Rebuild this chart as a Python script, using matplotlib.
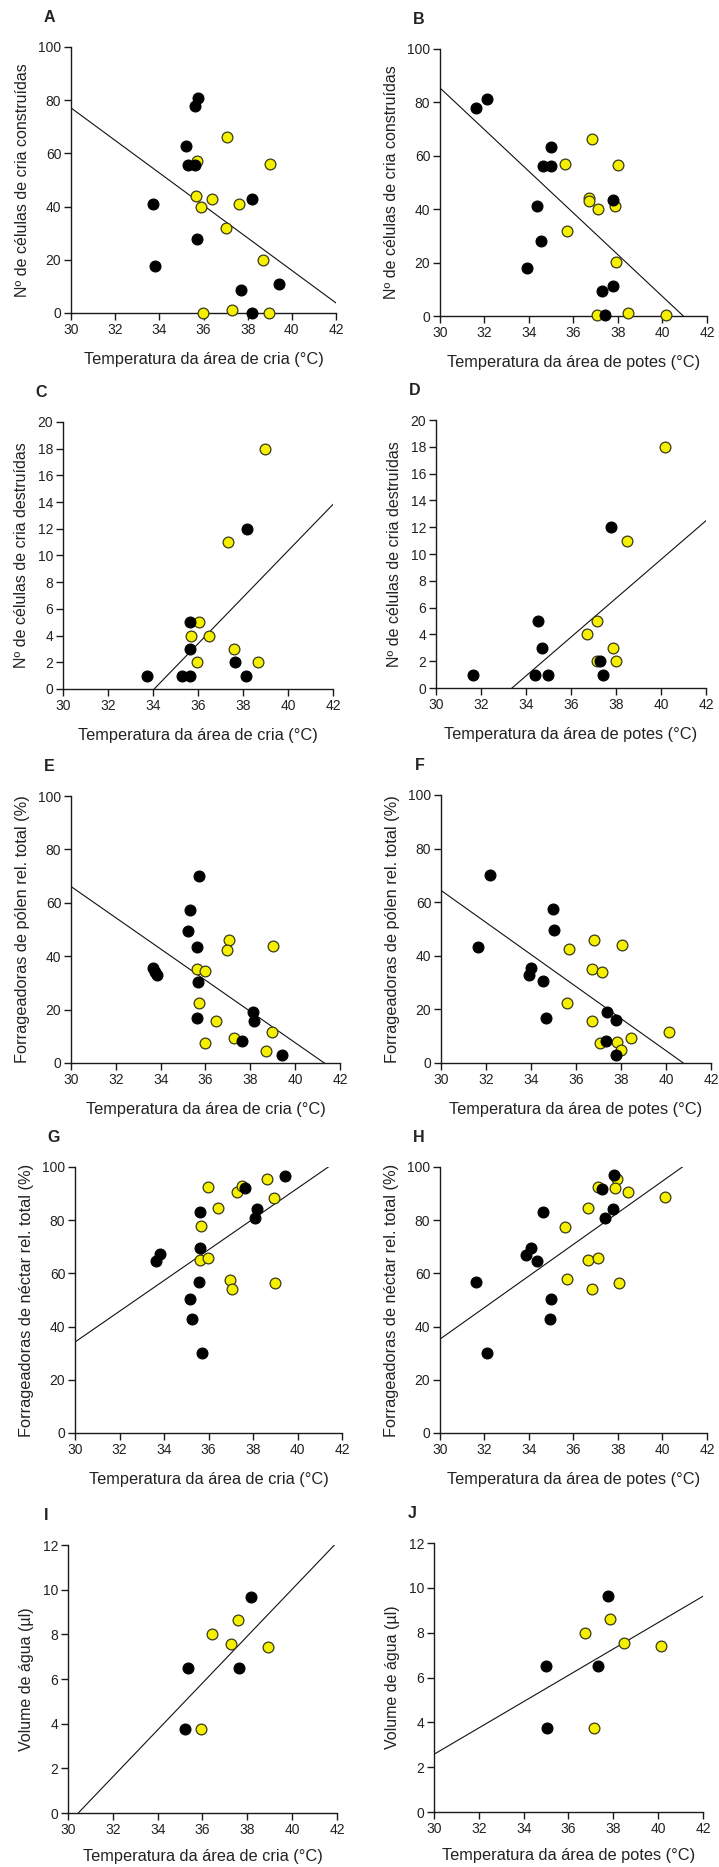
import numpy as np
import matplotlib
matplotlib.use('Agg')
import matplotlib.pyplot as plt

plt.rcParams['font.family'] = ['Liberation Sans', 'DejaVu Sans']

# ---- data: (x, y) for black and yellow colonies ----
# A: cells built vs brood-area temperature
a_blk_x = [35.77, 35.6, 35.2, 35.3, 35.6, 33.7, 35.7, 33.8, 37.7, 38.2, 39.4, 38.2]
a_blk_y = [81, 77.7, 62.8, 55.6, 55.6, 40.9, 27.8, 17.8, 8.8, 42.9, 10.8, 0]
a_yel_x = [35.7, 37.05, 39.0, 35.66, 36.4, 35.9, 37.6, 37.0, 38.7, 35.96, 37.3, 38.95]
a_yel_y = [57, 66, 55.9, 44, 43, 39.8, 40.9, 32, 19.8, 0, 1, 0]

# B: cells built vs pot-area temperature
b_blk_x = [31.62, 32.11, 35.0, 34.65, 34.98, 34.38, 34.53, 33.9, 37.79, 37.3, 37.77, 37.43]
b_blk_y = [78, 81.1, 63.4, 56.1, 56.1, 41.1, 28.1, 18.1, 43.3, 9.4, 11.1, 0.3]
b_yel_x = [36.83, 35.6, 38.0, 36.7, 36.7, 37.1, 37.85, 35.7, 37.9, 37.07, 38.47, 40.15]
b_yel_y = [66.3, 57, 56.4, 44.3, 43, 40.1, 41.1, 32, 20.1, 0.4, 1.25, 0.4]

# C: cells destroyed vs brood-area temperature
c_blk_x = [33.72, 35.28, 35.65, 35.65, 35.65, 37.65, 38.17, 38.13]
c_blk_y = [1, 1, 1, 3, 5, 2, 12, 1]
c_yel_x = [38.97, 37.33, 36.03, 35.67, 36.47, 37.62, 35.97, 38.67]
c_yel_y = [18, 11, 5, 4, 4, 3, 2, 2]

# D: cells destroyed vs pot-area temperature
d_blk_x = [31.65, 34.39, 34.98, 34.55, 34.69, 37.8, 37.3, 37.43]
d_blk_y = [1, 1, 1, 5, 3, 12, 2, 1]
d_yel_x = [40.16, 38.47, 37.15, 36.72, 37.15, 37.86, 37.98]
d_yel_y = [18, 11, 5, 4, 2, 3, 2]

# E: pollen foragers vs brood-area temperature
e_blk_x = [35.73, 35.33, 35.21, 35.6, 33.68, 33.76, 33.83, 35.66, 35.61, 38.14, 38.17, 37.65, 39.43]
e_blk_y = [70.2, 57.4, 49.5, 43.3, 35.4, 34, 32.9, 30.4, 16.7, 19.1, 15.8, 8.1, 3.1]
e_yel_x = [37.04, 36.97, 38.99, 35.64, 35.96, 35.72, 36.45, 37.29, 35.99, 38.69, 38.96]
e_yel_y = [46.1, 42.4, 44, 35.3, 34.3, 22.6, 15.6, 9.35, 7.5, 4.4, 11.5]

# F: pollen foragers vs pot-area temperature
f_blk_x = [32.18, 34.99, 35.02, 31.63, 33.99, 33.9, 34.53, 34.68, 37.39, 37.76, 37.32, 37.78]
f_blk_y = [70, 57.3, 49.5, 43.2, 35.3, 33, 30.5, 16.8, 18.9, 15.9, 8.1, 3.1]
f_yel_x = [36.81, 35.7, 38.03, 36.7, 37.16, 35.6, 36.71, 37.08, 37.82, 38.01, 38.46, 40.15]
f_yel_y = [46, 42.4, 43.9, 35, 34.1, 22.4, 15.5, 7.5, 7.7, 4.7, 9.5, 11.5]

# G: nectar foragers vs brood-area temperature
g_blk_x = [39.44, 37.64, 38.16, 38.1, 35.63, 35.64, 33.81, 33.66, 35.58, 35.19, 35.28, 35.7]
g_blk_y = [96.7, 92.2, 84.3, 81, 83.2, 69.5, 67.4, 64.5, 56.6, 50.4, 42.7, 30]
g_yel_x = [35.99, 37.29, 38.64, 38.94, 36.42, 35.67, 35.61, 35.96, 36.95, 37.04, 38.99, 37.5]
g_yel_y = [92.5, 90.5, 95.5, 88.5, 84.6, 77.7, 64.9, 65.9, 57.6, 54.1, 56.4, 92.7]

# H: nectar foragers vs pot-area temperature
h_blk_x = [37.8, 37.28, 37.79, 37.4, 34.62, 34.1, 33.85, 34.38, 31.6, 34.99, 34.96, 32.09]
h_blk_y = [97, 91.9, 84.3, 81, 83.1, 69.5, 66.8, 64.5, 56.6, 50.4, 42.7, 30]
h_yel_x = [37.97, 37.1, 37.85, 38.45, 40.13, 36.66, 35.6, 36.65, 37.11, 35.7, 36.83, 38.03]
h_yel_y = [95.4, 92.6, 92.2, 90.5, 88.7, 84.6, 77.4, 65, 65.8, 57.8, 54.1, 56.3]

# I: water volume vs brood-area temperature
i_blk_x = [38.15, 35.34, 37.65, 35.22]
i_blk_y = [9.66, 6.5, 6.5, 3.75]
i_yel_x = [37.59, 36.43, 37.29, 38.94, 35.93]
i_yel_y = [8.64, 8.0, 7.55, 7.44, 3.75]

# J: water volume vs pot-area temperature
j_blk_x = [37.75, 35.0, 37.3, 35.03]
j_blk_y = [9.62, 6.5, 6.5, 3.74]
j_yel_x = [37.84, 36.72, 38.48, 40.14, 37.15]
j_yel_y = [8.62, 8.0, 7.52, 7.4, 3.75]

# regression lines (intercept, slope), estimated from the figure
fits = {
    'A': (260.4, -6.11), 'B': (319.7, -7.81),
    'C': (-59.25, 1.74), 'D': (-48.33, 1.448),
    'E': (241.6, -5.85), 'F': (243.8, -5.98),
    'G': (-139.2, 5.78), 'H': (-142.9, 5.94),
    'I': (-31.98, 1.05), 'J': (-15.05, 0.5875),
}

xlab_cria = 'Temperatura da área de cria (°C)'
xlab_potes = 'Temperatura da área de potes (°C)'
ylab_constr = 'Nº de células de cria construídas'
ylab_destr = 'Nº de células de cria destruídas'
ylab_polen = 'Forrageadoras de pólen rel. total (%)'
ylab_nectar = 'Forrageadoras de néctar rel. total (%)'
ylab_agua = 'Volume de água (µl)'

# panel: (letter, data, ylabel, xlabel, ymax, ystep, axes box in px: left, right, top, bottom)
panels = [
    ('A', (a_blk_x, a_blk_y, a_yel_x, a_yel_y), ylab_constr, xlab_cria, 100, 20, (71, 336, 47, 313)),
    ('B', (b_blk_x, b_blk_y, b_yel_x, b_yel_y), ylab_constr, xlab_potes, 100, 20, (440, 707, 49, 316)),
    ('C', (c_blk_x, c_blk_y, c_yel_x, c_yel_y), ylab_destr, xlab_cria, 20, 2, (63, 333, 422, 689)),
    ('D', (d_blk_x, d_blk_y, d_yel_x, d_yel_y), ylab_destr, xlab_potes, 20, 2, (436, 706, 420, 688)),
    ('E', (e_blk_x, e_blk_y, e_yel_x, e_yel_y), ylab_polen, xlab_cria, 100, 20, (71, 340, 796, 1063)),
    ('F', (f_blk_x, f_blk_y, f_yel_x, f_yel_y), ylab_polen, xlab_potes, 100, 20, (441, 711, 795, 1063)),
    ('G', (g_blk_x, g_blk_y, g_yel_x, g_yel_y), ylab_nectar, xlab_cria, 100, 20, (75, 342, 1167, 1433)),
    ('H', (h_blk_x, h_blk_y, h_yel_x, h_yel_y), ylab_nectar, xlab_potes, 100, 20, (440, 707, 1167, 1433)),
    ('I', (i_blk_x, i_blk_y, i_yel_x, i_yel_y), ylab_agua, xlab_cria, 12, 2, (68, 337, 1545, 1813)),
    ('J', (j_blk_x, j_blk_y, j_yel_x, j_yel_y), ylab_agua, xlab_potes, 12, 2, (434, 703, 1543, 1812)),
]

W, H = 719, 1867
fig = plt.figure(figsize=(W / 100, H / 100), dpi=100)
fig.patch.set_facecolor('white')

TXT = '#222222'
for letter, (bx, by, yx, yy), ylab, xlab, ymax, ystep, (l, r, t, b) in panels:
    ax = fig.add_axes([l / W, 1 - b / H, (r - l) / W, (b - t) / H])
    ax.set_xlim(30, 42)
    ax.set_ylim(0, ymax)
    ax.set_xticks(np.arange(30, 43, 2))
    ax.set_yticks(np.arange(0, ymax + 0.1, ystep))
    for s in ['top', 'right']:
        ax.spines[s].set_visible(False)
    for s in ['left', 'bottom']:
        ax.spines[s].set_color('#1a1a1a')
        ax.spines[s].set_linewidth(1.0)
    ax.tick_params(direction='out', length=5, width=1, color='#1a1a1a',
                   labelsize=10, labelcolor=TXT, pad=2)

    b0, b1 = fits[letter]
    xs = np.linspace(30, 42, 200)
    ax.plot(xs, b0 + b1 * xs, color='#111111', lw=0.8, zorder=2)

    ax.scatter(yx, yy, s=60, c='#f4f000', edgecolors='#3a3a1a', linewidths=0.9,
               zorder=3, clip_on=False)
    ax.scatter(bx, by, s=60, c='black', edgecolors='black', linewidths=0.9,
               zorder=4, clip_on=False)

    ax.set_xlabel(xlab, fontsize=11.8, color=TXT, labelpad=9 if letter in 'IJ' else 11)
    ax.set_ylabel(ylab, fontsize=11.8 if letter in 'EFGH' else 11.5, color=TXT, labelpad=6)
    ax.text(-0.08, 1.11, letter, transform=ax.transAxes, fontsize=11.5,
            fontweight='bold', color=TXT, ha='center', va='center')

fig.savefig('out.png', dpi=100, facecolor='white')
